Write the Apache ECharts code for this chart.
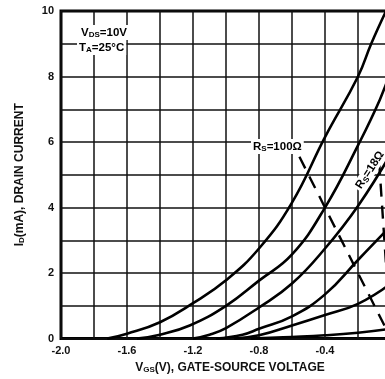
<!DOCTYPE html>
<html>
<head lang="en">
    <meta charset="UTF-8">
    <title></title>
    <style>
        html, body { margin: 0; padding: 0; overflow: hidden; background: #fff; }
    </style>
</head>
<body>
<div id="mychart" style="width: 400px;height: 379px;"></div>
<script src="https://cdn.jsdelivr.net/npm/echarts@6/dist/echarts.min.js"></script>
<script>
// axis ticks
var xTickValues = [-2.0, -1.6, -1.2, -0.8, -0.4, 0];
var xTickLabels = ['-2.0', '-1.6', '-1.2', '-0.8', '-0.4', '0'];
var yTickValues = [0, 2, 4, 6, 8, 10];
var yTickLabels = ['0', '2', '4', '6', '8', '10'];

// transfer curves (Vgs in V, Id in mA)
var vgsA = [-1.72, -1.6, -1.4, -1.2, -1.0, -0.8, -0.6, -0.4, -0.2, -0.12, -0.03];
var idA  = [0, 0.15, 0.5, 1.08, 1.78, 2.75, 4.15, 6.15, 8.0, 9.0, 10];
var vgsB = [-1.54, -1.4, -1.22, -1.0, -0.8, -0.6, -0.4, -0.2, -0.067, 0];
var idB  = [0, 0.12, 0.4, 1.0, 1.77, 2.57, 4.0, 5.9, 7.3, 8.2];
var vgsC = [-1.2, -1.1, -1.0, -0.8, -0.6, -0.4, -0.2, 0];
var idC  = [0, 0.12, 0.32, 0.95, 1.68, 2.75, 4.05, 5.65];
var vgsD = [-1.06, -0.9, -0.8, -0.6, -0.4, -0.2, 0];
var idD  = [0, 0.12, 0.3, 0.68, 1.35, 2.4, 3.45];
var vgsE = [-0.95, -0.8, -0.6, -0.4, -0.2, 0];
var idE  = [0, 0.1, 0.4, 0.72, 1.06, 1.68];
var vgsF = [-0.85, -0.6, -0.4, -0.2, 0];
var idF  = [0, 0.05, 0.1, 0.18, 0.3];

// source resistor load lines
var vgsRs100 = [-0.555, 0];
var idRs100  = [5.55, 0];
var vgsRs18  = [-0.072, 0];
var idRs18   = [5.4, 0];

function pairs(xs, ys) {
    return xs.map(function (v, i) { return [v, ys[i]]; });
}
function pickLabel(values, labels, v) {
    for (var i = 0; i < values.length; i++) {
        if (Math.abs(values[i] - v) < 1e-6) return labels[i];
    }
    return '';
}

var myChart = echarts.init(document.getElementById('mychart'));

var fontFam = '"Liberation Sans", Arial, sans-serif';
var txt = {fontFamily: fontFam, fontWeight: 'bold', fontSize: 12, color: '#111'};
var sub = {fontFamily: fontFam, fontWeight: 'bold', fontSize: 8, color: '#111', padding: [5, 0, 0, 0]};
var lab = {fontFamily: fontFam, fontWeight: 'bold', fontSize: 11.5, color: '#111'};
var labSub = {fontFamily: fontFam, fontWeight: 'bold', fontSize: 8, color: '#111', padding: [5, 0, 0, 0]};

var curveStyle = {color: '#000', width: 2.6};
var dashStyle = {color: '#000', width: 2.4, type: [13, 9]};

function curve(xs, ys) {
    return {
        type: 'line',
        data: pairs(xs, ys),
        smooth: 0.45,
        showSymbol: false,
        silent: true,
        lineStyle: curveStyle
    };
}
function loadLine(xs, ys) {
    return {
        type: 'line',
        data: pairs(xs, ys),
        showSymbol: false,
        silent: true,
        lineStyle: dashStyle
    };
}

var option = {
    animation: false,
    backgroundColor: '#fff',
    grid: {
        left: 61, top: 11, width: 330, height: 330,
        show: true, borderColor: '#000', borderWidth: 3, backgroundColor: 'transparent'
    },
    xAxis: {
        type: 'value',
        min: -2, max: 0, interval: 0.2,
        axisLine: {show: false},
        axisTick: {show: false},
        axisLabel: {
            margin: 7,
            fontFamily: fontFam, fontWeight: 'bold', fontSize: 11, color: '#111',
            formatter: function (v) { return pickLabel(xTickValues, xTickLabels, v); }
        },
        splitLine: {show: true, lineStyle: {color: '#111', width: 1.5}},
        name: '{a|V}{s|GS}{a|(V), GATE-SOURCE VOLTAGE}',
        nameLocation: 'middle',
        nameGap: 20,
        nameTextStyle: {rich: {a: txt, s: sub}, padding: [0, 0, 0, 8]}
    },
    yAxis: {
        type: 'value',
        min: 0, max: 10, interval: 1,
        axisLine: {show: false},
        axisTick: {show: false},
        axisLabel: {
            margin: 7,
            fontFamily: fontFam, fontWeight: 'bold', fontSize: 11, color: '#111',
            formatter: function (v) { return pickLabel(yTickValues, yTickLabels, v); }
        },
        splitLine: {show: true, lineStyle: {color: '#111', width: 1.6}},
        name: '{a|I}{s|D}{a|(mA), DRAIN CURRENT}',
        nameLocation: 'middle',
        nameGap: 35,
        nameTextStyle: {rich: {a: txt, s: sub}, padding: [0, 0, 0, 0]}
    },
    graphic: [
        {
            type: 'text', left: 79, top: 25, z: 100,
            style: {
                text: '{a|V}{s|DS}{a|=10V}', rich: {a: lab, s: labSub},
                backgroundColor: '#fff', padding: [1, 2, 1, 2]
            }
        },
        {
            type: 'text', left: 77, top: 40, z: 100,
            style: {
                text: '{a|T}{s|A}{a|=25°C}', rich: {a: lab, s: labSub},
                backgroundColor: '#fff', padding: [1, 2, 1, 2]
            }
        },
        {
            type: 'text', left: 251, top: 139, z: 100,
            style: {
                text: '{a|R}{s|S}{a|=100Ω}', rich: {a: lab, s: labSub},
                backgroundColor: '#fff', padding: [1, 2, 1, 2]
            }
        },
        {
            type: 'text', x: 370, y: 170, z: 100,
            rotation: 57 * Math.PI / 180,
            style: {
                text: '{a|R}{s|S}{a|=18Ω}', rich: {a: lab, s: labSub},
                align: 'center', verticalAlign: 'middle',
                backgroundColor: '#fff', padding: [0, 2, 0, 2]
            }
        }
    ],
    series: [
        curve(vgsA, idA),
        curve(vgsB, idB),
        curve(vgsC, idC),
        curve(vgsD, idD),
        curve(vgsE, idE),
        curve(vgsF, idF),
        loadLine(vgsRs100, idRs100),
        loadLine(vgsRs18, idRs18)
    ]
};
myChart.setOption(option);
</script>
</body>
</html>
